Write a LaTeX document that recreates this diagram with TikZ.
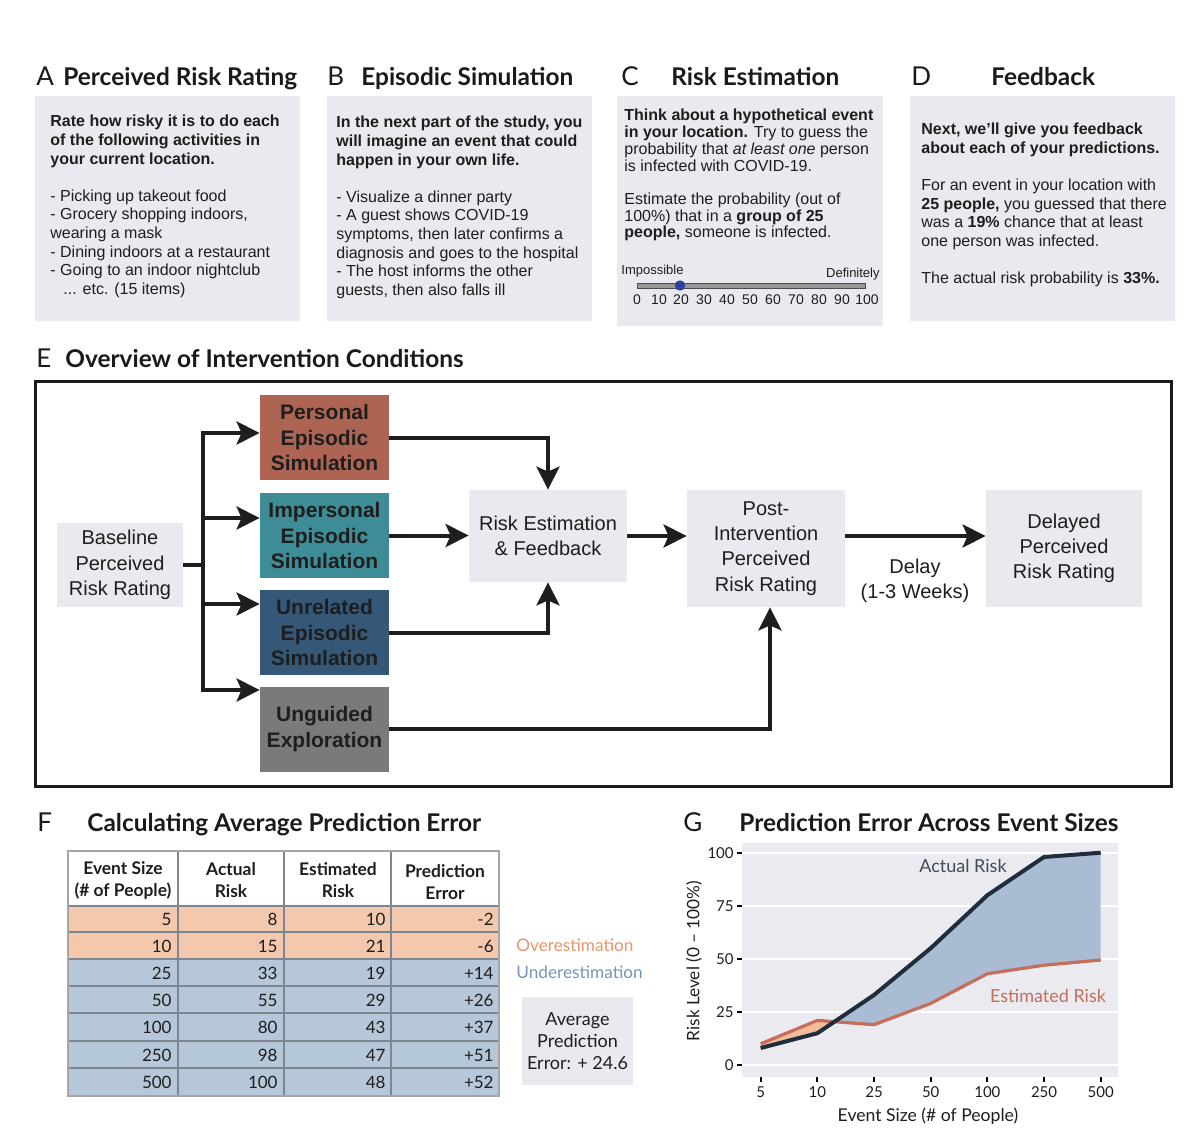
\documentclass[tikz,border=0pt]{standalone}
\usepackage{fontspec}
\setmainfont{Liberation Sans}
\newfontfamily\gill{Lato}
\usetikzlibrary{arrows.meta,calc}
\definecolor{panelbg}{HTML}{E9E9EF}
\definecolor{txt}{HTML}{1E1E1E}
\definecolor{titlec}{HTML}{1A1A1A}
\definecolor{persc}{HTML}{AE6453}
\definecolor{impc}{HTML}{3E8D96}
\definecolor{unrc}{HTML}{365878}
\definecolor{ungc}{HTML}{7A7A7A}
\definecolor{arrowc}{HTML}{1E1E1E}
\definecolor{orow}{HTML}{F4C8AD}
\definecolor{brow}{HTML}{B5C7D8}
\definecolor{tlinec}{HTML}{7D8791}
\definecolor{overc}{HTML}{E8956B}
\definecolor{underc}{HTML}{7C92B4}
\definecolor{plotbg}{HTML}{EAEAF0}
\definecolor{bluefill}{HTML}{A9BCD3}
\definecolor{orfill}{HTML}{F2BB9B}
\definecolor{actc}{HTML}{1F2D3C}
\definecolor{estc}{HTML}{C56F5A}
\definecolor{sliderdot}{HTML}{2B3F9E}
\begin{document}
\begin{tikzpicture}[x=0.5pt,y=-0.5pt,
  panel/.style={fill=panelbg},
  body/.style={anchor=north west, inner sep=0, align=left, font=\fontsize{8}{9.3}\selectfont, text=txt},
  ptitle/.style={anchor=base west, inner sep=0, font=\gill\bfseries\fontsize{12.2}{14}\selectfont, text=titlec},
  pletter/.style={anchor=base west, inner sep=0, font=\gill\fontsize{13}{15}\selectfont, text=titlec},
  flowbox/.style={fill=panelbg, align=center, inner sep=0, text=txt, font=\fontsize{10}{12.6}\selectfont},
  condbox/.style={align=center, inner sep=0, text=txt, font=\fontsize{10.5}{12.6}\selectfont\bfseries, minimum width=64.5pt, minimum height=42.5pt},
  line/.style={line width=2pt, draw=arrowc},
  arr/.style={line width=2pt, draw=arrowc, -{Stealth[length=11.5pt,width=11.5pt,inset=2.5pt]}},
  tline/.style={draw=tlinec, line width=1pt},
  thead/.style={inner sep=0, align=center, font=\gill\bfseries\fontsize{8.7}{11}\selectfont, text=txt},
  num/.style={inner sep=0, anchor=east, font=\gill\fontsize{8.5}{10}\selectfont, text=txt},
  tick/.style={inner sep=0, font=\gill\fontsize{7.5}{9}\selectfont, text=txt},
  slnum/.style={inner sep=0, anchor=base, font=\fontsize{7}{8}\selectfont, text=txt}
]
\useasboundingbox[fill=white] (0,0) rectangle (1200,1135);

% ---------- top panels ----------
\node[pletter] (la) at (36,85) {A};
\node[ptitle] (ta) at (63,85) {Perceived Risk Rating};
\node[pletter] (lb) at (327,85) {B};
\node[ptitle] (tb) at (361,85) {Episodic Simulation};
\node[pletter] (lc) at (621,85) {C};
\node[ptitle] (tc) at (671,85) {Risk Estimation};
\node[pletter] (ld) at (911,85) {D};
\node[ptitle] (td) at (991,85) {Feedback};

\path[panel] (35,96) rectangle (300,321);
\path[panel] (327,96) rectangle (592,321);
\path[panel] (617,96) rectangle (883,326);
\path[panel] (910,96) rectangle (1175,321);

\node[body] (txa) at (50,115) {\textbf{Rate how risky it is to do each}\\\textbf{of the following activities in}\\\textbf{your current location.}\\[9.3pt]- Picking up takeout food\\- Grocery shopping indoors,\\wearing a mask\\- Dining indoors at a restaurant\\- Going to an indoor nightclub\\\hspace*{6.5pt}... etc. (15 items)};

\node[body] (txb) at (336,116) {\textbf{In the next part of the study, you}\\\textbf{will imagine an event that could}\\\textbf{happen in your own life.}\\[9.3pt]- Visualize a dinner party\\- A guest shows COVID-19\\symptoms, then later confirms a\\diagnosis and goes to the hospital\\- The host informs the other\\guests, then also falls ill};

\node[body, font=\fontsize{8}{8.35}\selectfont] (txc) at (624,109) {\textbf{Think about a hypothetical event}\\\textbf{in your location.} Try to guess the\\probability that \textit{at least one} person\\is infected with COVID-19.\\[8.35pt]Estimate the probability (out of\\100\%) that in a \textbf{group of 25}\\\textbf{people,} someone is infected.};

\node[body] (txd) at (921,123) {\textbf{Next, we’ll give you feedback}\\\textbf{about each of your predictions.}\\[9.3pt]For an event in your location with\\\textbf{25 people,} you guessed that there\\was a \textbf{19\%} chance that at least\\one person was infected.\\[9.3pt]The actual risk probability is \textbf{33\%.}};

% slider
\node[inner sep=0, anchor=base west, font=\fontsize{6.5}{8}\selectfont, text=txt] (imp) at (621,274) {Impossible};
\node[inner sep=0, anchor=base east, font=\fontsize{6.5}{8}\selectfont, text=txt] (def) at (880,277) {Definitely};
\draw[fill=black!40, draw=black!70, line width=0.4pt] (637,283) rectangle (865,288);
\fill[sliderdot] (680,285.5) circle[radius=2.6pt];
\foreach \n/\xx in {0/637,10/659,20/681,30/704,40/727,50/750,60/773,70/796,80/819,90/842,100/867}
  \node[slnum] (s\n) at (\xx,304) {\n};

% ---------- panel E ----------
\node[pletter] (le) at (36,367) {E};
\node[ptitle] (te) at (65,367) {Overview of Intervention Conditions};
\draw[line width=1.5pt, draw=titlec] (35,381) rectangle (1171,786);

\node[flowbox, minimum width=63pt, minimum height=42pt] (base) at (120,565) {Baseline\\Perceived\\Risk Rating};
\node[condbox, fill=persc] (pers) at (324.5,437.5) {Personal\\Episodic\\Simulation};
\node[condbox, fill=impc] (impn) at (324.5,535.5) {Impersonal\\Episodic\\Simulation};
\node[condbox, fill=unrc] (unr) at (324.5,632.5) {Unrelated\\Episodic\\Simulation};
\node[condbox, fill=ungc] (ung) at (324.5,729) {Unguided\\Exploration};
\node[flowbox, minimum width=79pt, minimum height=46pt] (re) at (548,536) {Risk Estimation\\\& Feedback};
\node[flowbox, minimum width=79pt, minimum height=58.5pt] (post) at (766,548.5) {Post-\\Intervention\\Perceived\\Risk Rating};
\node[flowbox, minimum width=78pt, minimum height=58.5pt] (del) at (1064,548.5) {Delayed\\Perceived\\Risk Rating};
\node[inner sep=0, align=center, text=txt, font=\fontsize{10}{12.6}\selectfont] (delay) at (915,581) {Delay\\(1-3 Weeks)};

\coordinate (tmid) at (203,565);
\coordinate (tr1) at (203,433);
\coordinate (tr2) at (203,518);
\coordinate (tr3) at (203,604);
\coordinate (tr4) at (203,690);
\draw[line] (base.east |- tmid) -- (tmid);
\draw[line, line cap=rect] (tr1) -- (tr4);
\draw[arr] (tr1) -- (tr1 -| pers.west);
\draw[arr] (tr2) -- (tr2 -| impn.west);
\draw[arr] (tr3) -- (tr3 -| unr.west);
\draw[arr] (tr4) -- (tr4 -| ung.west);
\draw[arr] (pers.east) -| (re.north);
\draw[arr] (impn.east) -- (impn.east -| re.west);
\draw[arr] (unr.east) -| (re.south);
\draw[arr] (ung.east) -| ([xshift=2pt]post.south);
\draw[arr] (re.east) -- (re.east -| post.west);
\draw[arr] (re.east -| post.east) -- (re.east -| del.west);

% ---------- panel F ----------
\node[pletter] (lf) at (37,831) {F};
\node[ptitle] (tf) at (87,831) {Calculating Average Prediction Error};

\fill[white] (68,851) rectangle (499,906);
\fill[orow] (68,906) rectangle (499,959);
\fill[brow] (68,959) rectangle (499,1096);
\foreach \yy in {906,932,959,986,1013,1041,1068}
  \draw[tline] (68,\yy) -- (499,\yy);
\foreach \xx in {178,284,391}
  \draw[tline] (\xx,851) -- (\xx,1096);
\draw[draw=black!35, line width=1pt] (68,851) rectangle (499,1096);

\node[thead] (h1) at (123,880) {Event Size\\(\# of People)};
\node[thead] (h2) at (231,880) {Actual\\Risk};
\node[thead] (h3) at (338,880) {Estimated\\Risk};
\node[thead] (h4) at (445,882) {Prediction\\Error};

\foreach \r/\a/\b/\c/\d/\yy in {1/5/8/10/-2/919,2/10/15/21/-6/946,3/25/33/19/+14/973,4/50/55/29/+26/1000,5/100/80/43/+37/1027,6/250/98/47/+51/1055,7/500/100/48/+52/1082}{
  \node[num] (ra\r) at (172,\yy) {\a};
  \node[num] (rb\r) at (278,\yy) {\b};
  \node[num] (rc\r) at (386,\yy) {\c};
  \node[num] (rd\r) at (494,\yy) {\d};
}

\node[inner sep=0, anchor=west, text=overc, font=\gill\fontsize{8.6}{11}\selectfont] (over) at (516,945) {Overestimation};
\node[inner sep=0, anchor=west, text=underc, font=\gill\fontsize{8.6}{11}\selectfont] (under) at (516,972) {Underestimation};
\node[fill=panelbg, inner sep=0, minimum width=55.5pt, minimum height=44pt, align=center, text=txt, font=\gill\fontsize{9}{11}\selectfont] (avg) at (577.5,1041) {Average\\Prediction\\Error: + 24.6};

% ---------- panel G ----------
\node[pletter] (lg) at (683,831) {G};
\node[ptitle] (tg) at (739,831) {Prediction Error Across Event Sizes};

\fill[plotbg] (742,843) rectangle (1118,1077);
\foreach \v in {0,25,50,75,100}{
  \draw[white, line width=1.2pt] (742,{1065-2.123*\v}) -- (1118,{1065-2.123*\v});
  \draw[black, line width=0.8pt] (737,{1065-2.123*\v}) -- (742,{1065-2.123*\v});
  \node[tick, anchor=east] (yt\v) at (734,{1065-2.123*\v}) {\v};
}
\foreach \i/\lab in {0/5,1/10,2/25,3/50,4/100,5/250,6/500}{
  \draw[black, line width=1pt] ({760.7+56.67*\i},1077) -- ({760.7+56.67*\i},1082);
  \node[tick, anchor=base] (xt\i) at ({760.7+56.67*\i},1097) {\lab};
}
\node[inner sep=0, text=txt, font=\gill\fontsize{8.8}{10}\selectfont] (xlab) at (928,1116) {Event Size (\# of People)};
\node[inner sep=0, text=txt, font=\gill\fontsize{8.6}{10}\selectfont, rotate=90] (ylab) at (694,961) {Risk Level (0 – 100\%)};

% fills
\fill[orfill] (760.7,1048) -- (817.4,1033.2) -- (834.4,1021.7) -- (817.4,1020.4) -- (760.7,1043.8) -- cycle;
\fill[bluefill] (834.4,1021.7) -- (874,995) -- (930.7,948.2) -- (987.4,895.2) -- (1044,857) -- (1100.7,852.7) -- (1100.7,960) -- (1044,965.2) -- (987.4,973.7) -- (930.7,1003.4) -- (874,1024.7) -- cycle;
% lines
\draw[estc, line width=1.6pt, line join=round] (760.7,1043.8) -- (817.4,1020.4) -- (874,1024.7) -- (930.7,1003.4) -- (987.4,973.7) -- (1044,965.2) -- (1100.7,960);
\draw[actc, line width=2pt, line join=round] (760.7,1048) -- (817.4,1033.2) -- (874,995) -- (930.7,948.2) -- (987.4,895.2) -- (1044,857) -- (1100.7,852.7);

\node[inner sep=0, text=actc!85, font=\gill\fontsize{9}{10}\selectfont] (actlab) at (963,866) {Actual Risk};
\node[inner sep=0, text=estc, font=\gill\fontsize{9}{10}\selectfont] (estlab) at (1048,996) {Estimated Risk};
\end{tikzpicture}
\end{document}
